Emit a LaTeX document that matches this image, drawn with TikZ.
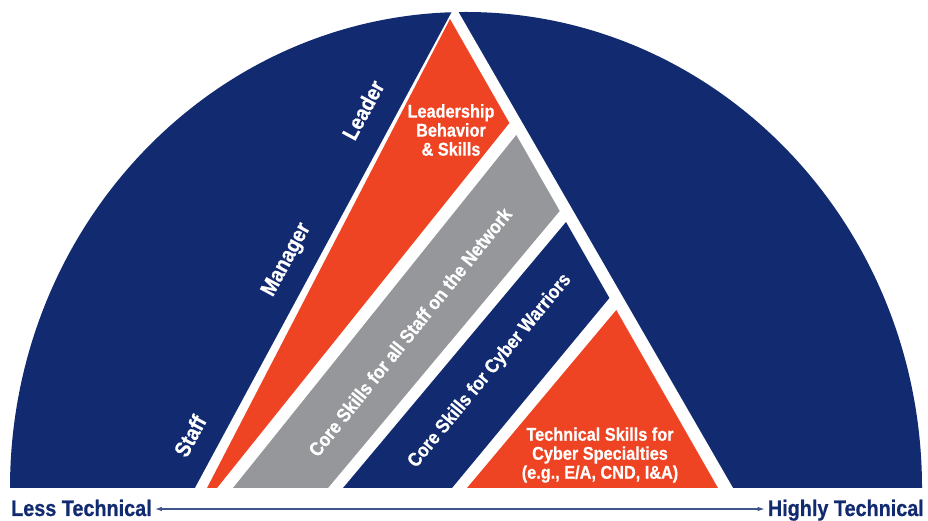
\documentclass[tikz,border=0pt]{standalone}
\usepackage{fontspec}
\setmainfont{Liberation Sans}[FakeStretch=0.88, BoldFeatures={FakeBold=0.6}]
\usetikzlibrary{arrows.meta}
\definecolor{navy}{RGB}{18,43,112}
\definecolor{flame}{RGB}{239,68,35}
\definecolor{steel}{RGB}{150,151,155}
\tikzset{
  lbl/.style={text=white, font=\bfseries\fontsize{18.5}{19}\selectfont, align=center, inner sep=0pt},
  band/.style={lbl, font=\bfseries\fontsize{19.5}{19.5}\selectfont},
  role/.style={lbl, font=\bfseries\fontsize{22}{22}\selectfont, rotate=61.6},
  axislbl/.style={text=navy, font=\bfseries\fontsize{22.5}{22.5}\selectfont, inner sep=0pt}
}
\begin{document}
\begin{tikzpicture}[x=1pt,y=1pt]
\useasboundingbox (0,0) rectangle (928,521);
% half disc with the pyramid cut out
\fill[navy] (10,33) arc[start angle=180, end angle=0, x radius=456, y radius=476] -- cycle;
\fill[white] (455,515) -- (195,33) -- (733,33) -- cycle;

% bands of the pyramid
\fill[flame] (450,502) -- (207,33) -- (217,33) -- (509.4,398) -- cycle;
\fill[steel] (516.3,386) -- (233,33) -- (328,33) -- (559.7,310) -- cycle;
\fill[navy] (566,299) -- (343,33) -- (452,33) -- (609.4,223) -- cycle;
\fill[flame] (616.3,211) -- (467,33) -- (718,33) -- cycle;

\node[lbl] (lead) at (451,391) {Leadership\\Behavior\\\& Skills};
\node[band, rotate=51.3] (allstaff) at (410,189) {Core Skills for all Staff on the Network};
\node[band, rotate=50.5] (warriors) at (490,150) {Core Skills for Cyber Warriors};
\node[lbl] (special) at (600,66) {Technical Skills for\\Cyber Specialties\\(e.g., E/A, CND, I\&A)};

% roles along the left side
\node[role] (leader) at (363,411) {Leader};
\node[role] (manager) at (287,261) {Manager};
\node[role] (staff) at (190,85) {Staff};

% axis
\node[axislbl, anchor=base west] (less) at (11,5) {Less Technical};
\node[axislbl, anchor=base east] (high) at (924,5) {Highly Technical};
\draw[navy!80, line width=1.1pt, {Latex[length=7pt,width=4.5pt]}-{Latex[length=7pt,width=4.5pt]}]
  ([shift={(3pt,7pt)}]less.base east) -- ([shift={(-3pt,7pt)}]high.base west);
\end{tikzpicture}
\end{document}
